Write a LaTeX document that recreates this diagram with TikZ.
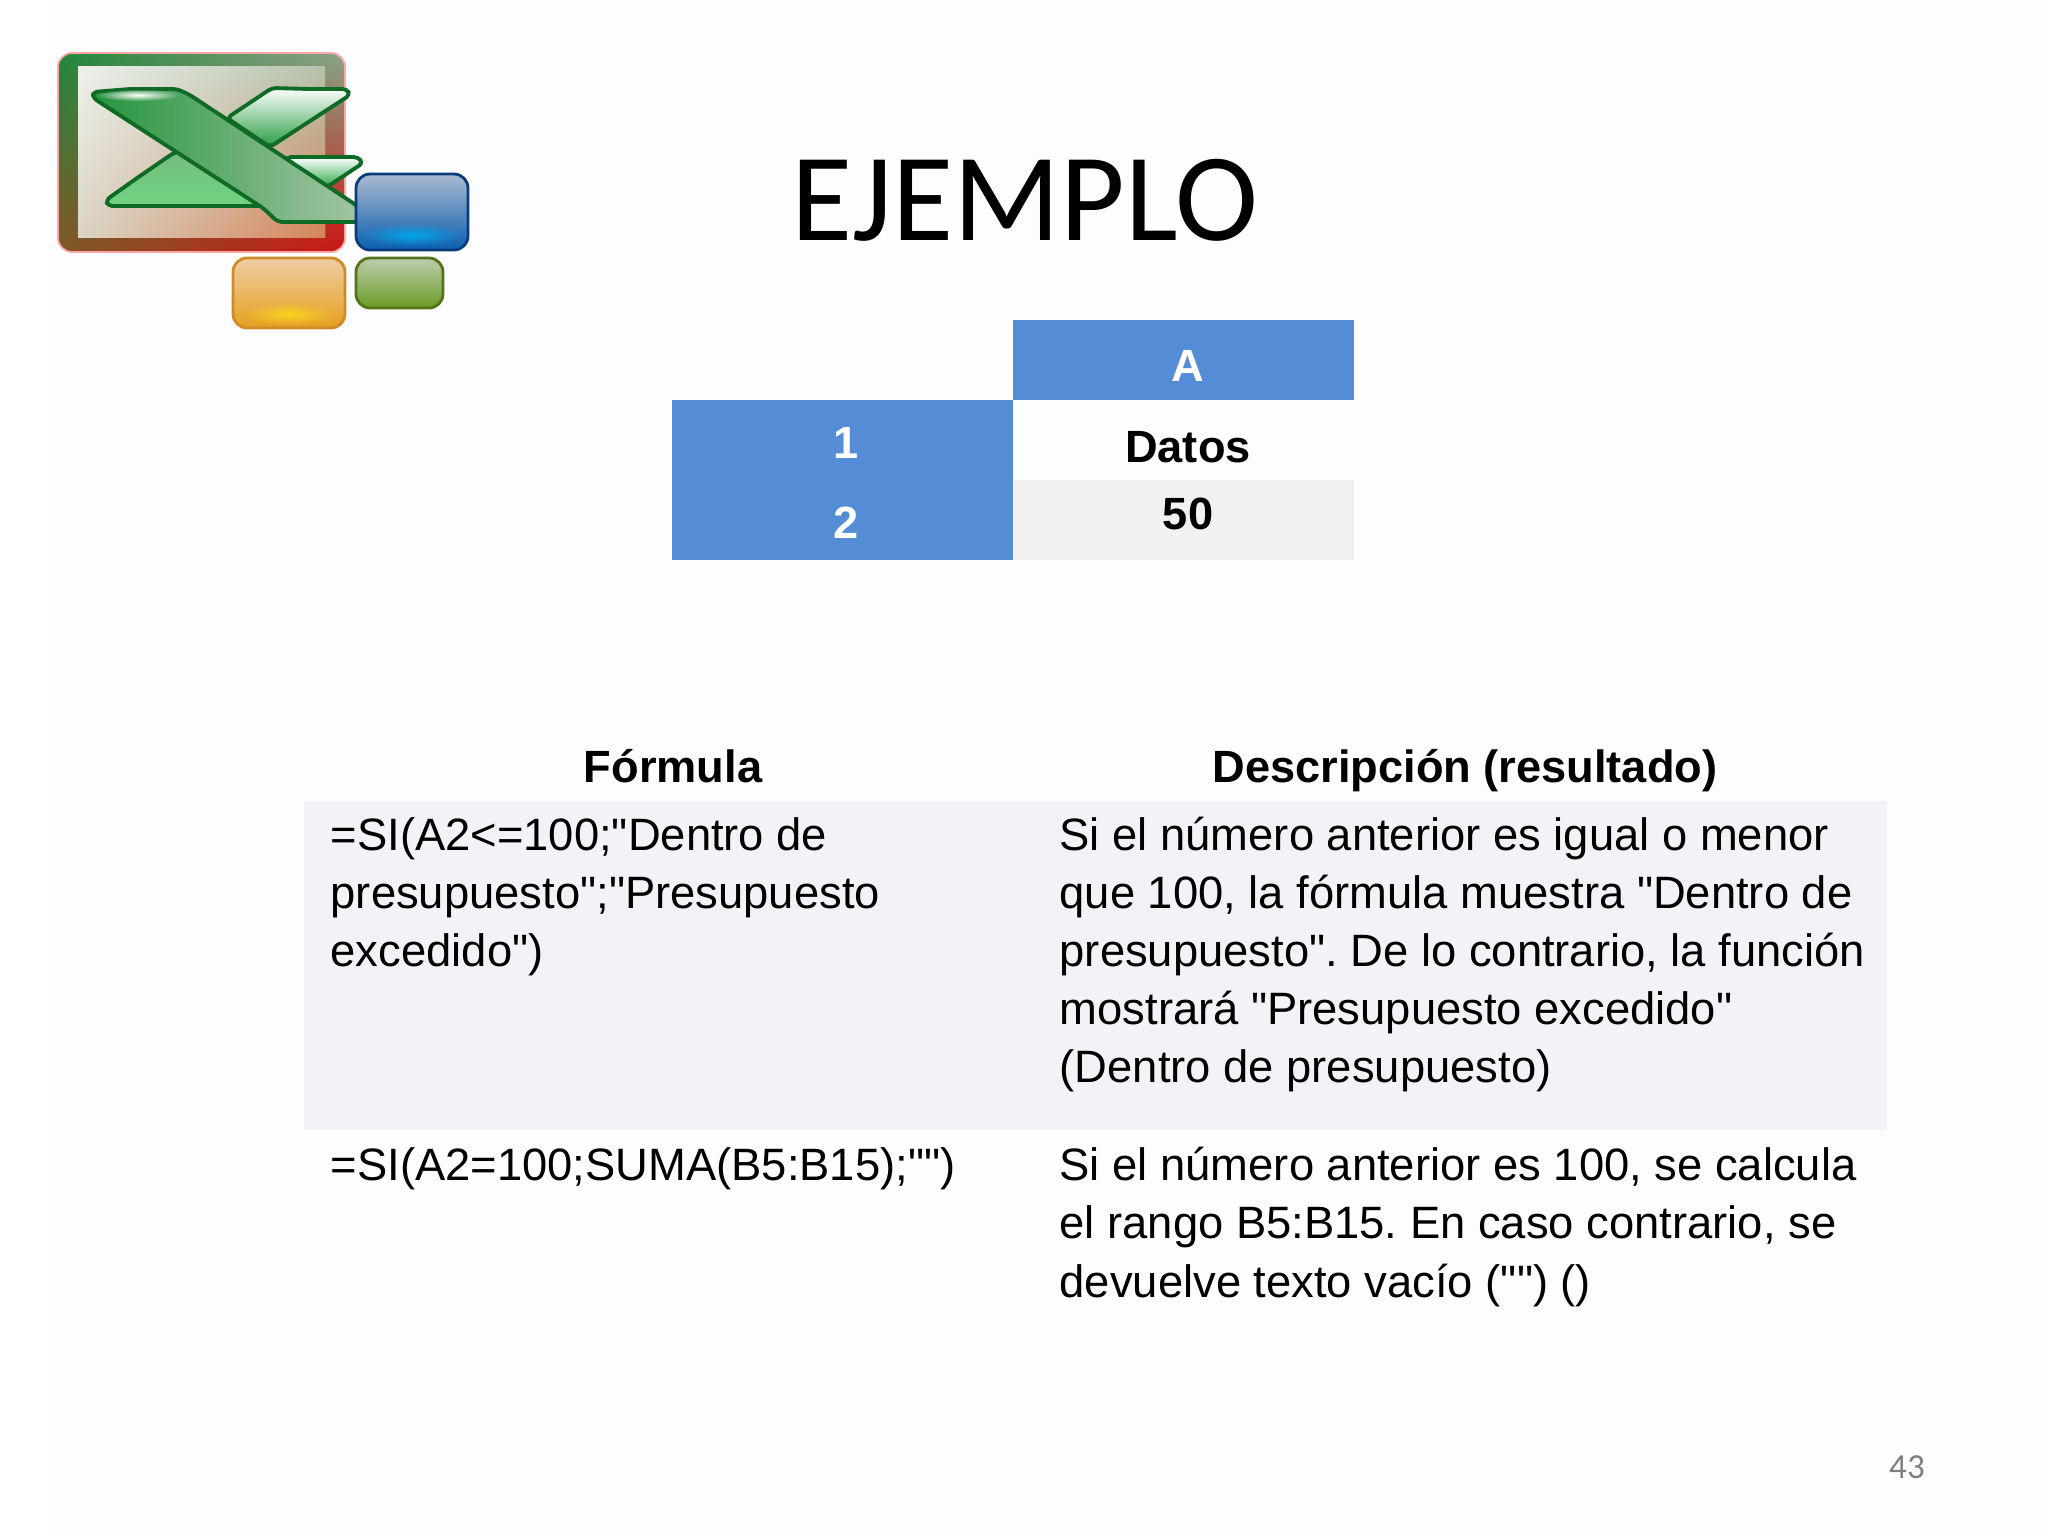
\documentclass[tikz,border=0pt]{standalone}
\usepackage{fontspec}
\setmainfont{Liberation Sans}[Ligatures=TeXOff]
\newfontfamily\titlefont{Carlito}
\usetikzlibrary{fadings}

\definecolor{cellblue}{HTML}{558CD6}
\definecolor{cellgray}{HTML}{F2F1F0}
\definecolor{bandgray}{HTML}{F3F2F6}
\definecolor{xdark}{HTML}{0E6A24}
\definecolor{xmid}{HTML}{2FA84A}
\definecolor{xlight}{HTML}{6FD57E}
\definecolor{xsage}{HTML}{A6C6A6}
\definecolor{framegreen}{HTML}{20883C}
\definecolor{framesage}{HTML}{8CA587}
\definecolor{framebrown}{HTML}{805828}
\definecolor{framered}{HTML}{CD1414}
\definecolor{paneltop}{HTML}{EEF2EC}
\definecolor{paneltopright}{HTML}{B5C2AC}
\definecolor{panelleft}{HTML}{DAD4C4}
\definecolor{panelright}{HTML}{D8845A}
\definecolor{bluedark}{HTML}{0A3C7D}
\definecolor{bluetop}{HTML}{AAB9D0}
\definecolor{bluemid}{HTML}{3F73A8}
\definecolor{bluebottom}{HTML}{0A5FAF}
\definecolor{blueglow}{HTML}{00A5EB}
\definecolor{orangedark}{HTML}{CD8C28}
\definecolor{orangetop}{HTML}{EECDA5}
\definecolor{orangemid}{HTML}{DDA050}
\definecolor{orangebottom}{HTML}{E6A01E}
\definecolor{orangeglow}{HTML}{F8D21E}
\definecolor{olivedark}{HTML}{557319}
\definecolor{olivetop}{HTML}{BECDAF}
\definecolor{olivemid}{HTML}{7FA048}
\definecolor{olivebottom}{HTML}{699B23}

\tikzfading[name=glowfade, inner color=transparent!0, outer color=transparent!100]

\frenchspacing

\begin{document}
\begin{tikzpicture}[
    x=0.01cm,
    y=-0.01cm,
    bodytext/.style = {
      anchor = base west,
      inner sep = 0pt,
      font = \fontsize{12.9}{16.6}\selectfont
    },
    headtext/.style = {
      anchor = base,
      inner sep = 0pt,
      font = \fontsize{12.85}{16}\selectfont\bfseries
    },
    celltext/.style = {
      headtext,
      text = white
    },
    tile/.style = {
      rounded corners = 4pt,
      line width = 0.8pt
    },
    xstroke/.style = {
      draw = xdark,
      line width = 1.1pt,
      line join = round,
      rounded corners = 1.2pt
    }
  ]
  \useasboundingbox (0,0) rectangle (2048,1536);
  \fill[white] (0,0) rectangle (2048,1536);
  \fill[black!0.6] (48,0) rectangle (2048,1536);

  \scope[]
	\shade[tile, left color=framegreen, right color=framesage] (58,53) rectangle (345,252);
	\shade[tile, left color=framebrown, right color=framered, path fading=north] (58,53) rectangle (345,252);
	\draw[tile, red!35, line width=0.5pt] (58,53) rectangle (345,252);
	\shade[left color=paneltop, right color=paneltopright] (78,66) rectangle (325,237);
	\shade[left color=panelleft, right color=panelright, path fading=north] (78,66) rectangle (325,237);

	\shade[xstroke, top color=xsage!60!xmid, middle color=xmid, bottom color=xlight] (140,176) -- (106,200) -- (108,206) -- (272,206) -- (260,150) -- (175,152) -- cycle;
	\shade[xstroke, top color=white, middle color=xmid, bottom color=xmid!80!xdark] (310,89) -- (347,89) -- (350,95) -- (270,147) -- (227,118) -- (272,88) -- cycle;
	\shade[xstroke, top color=white, middle color=xmid, bottom color=xmid] (320,157) -- (358,157) -- (363,163) -- (327,187) -- (280,170) -- (287,157) -- cycle;
	\shade[xstroke, shading angle=55, left color=xmid!70!xdark, middle color=xmid!60!xlight, right color=xsage] (130,89) -- (177,89) -- (190,95) -- (368,213) -- (363,222) -- (278,222) -- (263,208) -- (93,98) -- (93,92) -- cycle;
	\fill[white, path fading=glowfade] (138,95) ellipse (42 and 6);

	\shade[tile, draw=bluedark, top color=bluetop, middle color=bluemid, bottom color=bluebottom] (356,174) rectangle (468,250);
	\fill[blueglow, path fading=glowfade] (412,235) ellipse (50 and 11);

	\shade[tile, draw=orangedark, top color=orangetop, middle color=orangemid, bottom color=orangebottom] (233,258) rectangle (345,328);
	\fill[orangeglow, path fading=glowfade] (289,314) ellipse (46 and 11);

	\shade[tile, draw=olivedark, top color=olivetop, middle color=olivemid, bottom color=olivebottom] (356,258) rectangle (443,308);
  \endscope

  \node[anchor=base, inner sep=0pt, font=\titlefont\fontsize{35.6}{40}\selectfont] (title) at (1025,240) {EJEMPLO};

  \scope[]
	\fill[cellblue] (1013,320) rectangle (1354,400);
	\fill[cellblue] (672,400) rectangle (1013,560);
	\fill[cellgray] (1013,480) rectangle (1354,560);
	\fill[bandgray] (304,801) rectangle (1887,1130);
  \endscope

  \node[celltext] (colA) at (1188,381) {A};
  \node[celltext] (row1) at (846,458) {1};
  \node[celltext] (row2) at (846,538) {2};
  \node[headtext] (datos) at (1188,462) {Datos};
  \node[headtext] (valor) at (1188,529) {50};

  \node[headtext] (formula) at (673,782) {Fórmula};
  \node[headtext] (descripcion) at (1465,782) {Descripción (resultado)};

  \node[bodytext] (f1a) at (330,850) {=SI(A2<=100;"Dentro de};
  \node[bodytext] (f1b) at (330,908) {presupuesto";"Presupuesto};
  \node[bodytext] (f1c) at (330,966) {excedido")};
  \node[bodytext] (d1a) at (1059,850) {Si el número anterior es igual o menor};
  \node[bodytext] (d1b) at (1059,908) {que 100, la fórmula muestra "Dentro de};
  \node[bodytext] (d1c) at (1059,966) {presupuesto". De lo contrario, la función};
  \node[bodytext] (d1d) at (1059,1024) {mostrará "Presupuesto excedido"};
  \node[bodytext] (d1e) at (1059,1082) {(Dentro de presupuesto)};

  \node[bodytext] (f2a) at (330,1180) {=SI(A2=100;SUMA(B5:B15);"")};
  \node[bodytext] (d2a) at (1059,1180) {Si el número anterior es 100, se calcula};
  \node[bodytext] (d2b) at (1059,1238) {el rango B5:B15. En caso contrario, se};
  \node[bodytext] (d2c) at (1059,1297) {devuelve texto vacío ("") ()};

  \node[anchor=base, inner sep=0pt, text=black!50, font=\titlefont\fontsize{10}{12}\selectfont] (page) at (1907,1478) {43};
\end{tikzpicture}
\end{document}
